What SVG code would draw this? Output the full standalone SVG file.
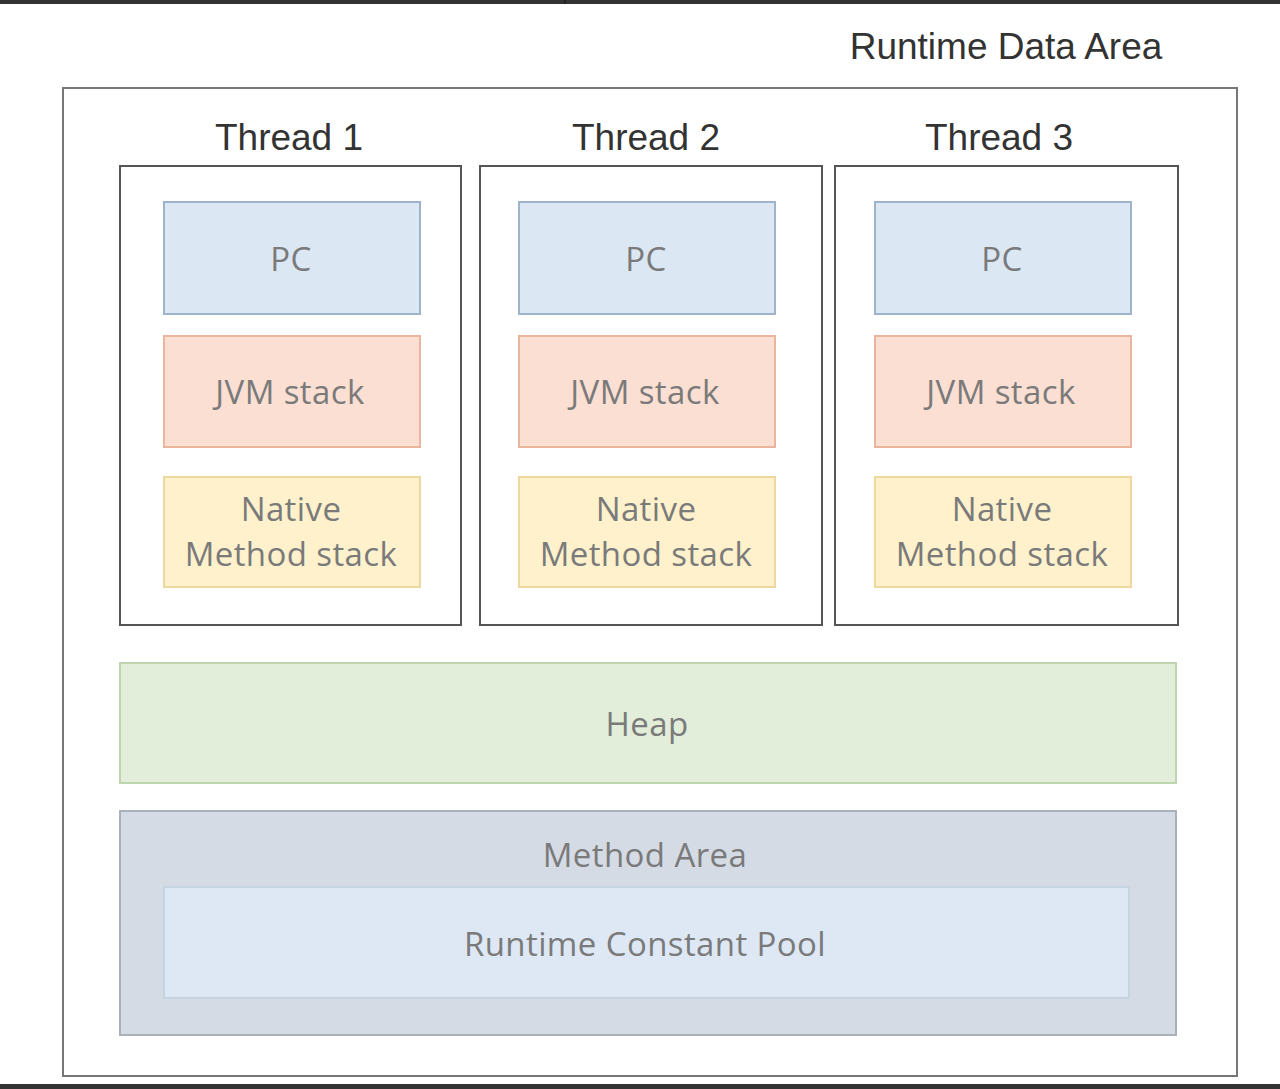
<svg xmlns="http://www.w3.org/2000/svg" width="1280" height="1089" viewBox="0 0 1280 1089">
<style>
.title{font-family:"Liberation Sans",Arial,sans-serif;font-size:37px;fill:#333;text-anchor:middle}
.lbl{font-family:"Open Sans","Noto Sans",sans-serif;font-size:33px;letter-spacing:0.4px;fill:#7a7a7a;text-anchor:middle}
.thread{fill:#fff;stroke:#555;stroke-width:2}
.pc{fill:#dce7f4;stroke:#9fb3cb;stroke-width:2}
.jvm{fill:#fbdfd2;stroke:#e9b59c;stroke-width:2}
.nat{fill:#fff1cc;stroke:#eed89e;stroke-width:2}
</style>
<rect x="0" y="0" width="1280" height="1089" fill="#fff"/>
<rect x="0" y="0" width="1280" height="4" fill="#333"/>
<line x1="565" y1="0" x2="565" y2="4" stroke="#111" stroke-width="1"/>
<rect x="0" y="1084" width="1280" height="5" fill="#333"/>
<g id="runtime-data-area">
<rect x="63" y="88" width="1174" height="988" fill="#fff" stroke="#777" stroke-width="2"/>
<text class="title" x="1006" y="59">Runtime Data Area</text>
</g>
<g id="thread1">
<text class="title" x="289" y="150">Thread 1</text>
<rect class="thread" x="120" y="166" width="341" height="459"/>
<g id="pc1"><rect class="pc" x="164" y="202" width="256" height="112"/><text class="lbl" x="291" y="271">PC</text></g>
<g id="jvm1"><rect class="jvm" x="164" y="336" width="256" height="111"/><text class="lbl" x="290" y="404">JVM stack</text></g>
<g id="nat1"><rect class="nat" x="164" y="477" width="256" height="110"/><text class="lbl" x="291" y="521">Native</text><text class="lbl" x="291" y="566">Method stack</text></g>
</g>
<g id="thread2">
<text class="title" x="646" y="150">Thread 2</text>
<rect class="thread" x="480" y="166" width="342" height="459"/>
<g id="pc2"><rect class="pc" x="519" y="202" width="256" height="112"/><text class="lbl" x="646" y="271">PC</text></g>
<g id="jvm2"><rect class="jvm" x="519" y="336" width="256" height="111"/><text class="lbl" x="645" y="404">JVM stack</text></g>
<g id="nat2"><rect class="nat" x="519" y="477" width="256" height="110"/><text class="lbl" x="646" y="521">Native</text><text class="lbl" x="646" y="566">Method stack</text></g>
</g>
<g id="thread3">
<text class="title" x="999" y="150">Thread 3</text>
<rect class="thread" x="835" y="166" width="343" height="459"/>
<g id="pc3"><rect class="pc" x="875" y="202" width="256" height="112"/><text class="lbl" x="1002" y="271">PC</text></g>
<g id="jvm3"><rect class="jvm" x="875" y="336" width="256" height="111"/><text class="lbl" x="1001" y="404">JVM stack</text></g>
<g id="nat3"><rect class="nat" x="875" y="477" width="256" height="110"/><text class="lbl" x="1002" y="521">Native</text><text class="lbl" x="1002" y="566">Method stack</text></g>
</g>
<g id="heap">
<rect x="120" y="663" width="1056" height="120" fill="#e2eed9" stroke="#bfd4b1" stroke-width="2"/>
<text class="lbl" x="647" y="736">Heap</text>
</g>
<g id="method-area">
<rect x="120" y="811" width="1056" height="224" fill="#d5dbe5" stroke="#a9b1bb" stroke-width="2"/>
<text class="lbl" x="645" y="867">Method Area</text>
<g id="runtime-constant-pool">
<rect x="164" y="887" width="965" height="111" fill="#dde8f4" stroke="#c6d4e1" stroke-width="2"/>
<text class="lbl" x="645" y="956">Runtime Constant Pool</text>
</g>
</g>
<g id="connectors"/>
</svg>
